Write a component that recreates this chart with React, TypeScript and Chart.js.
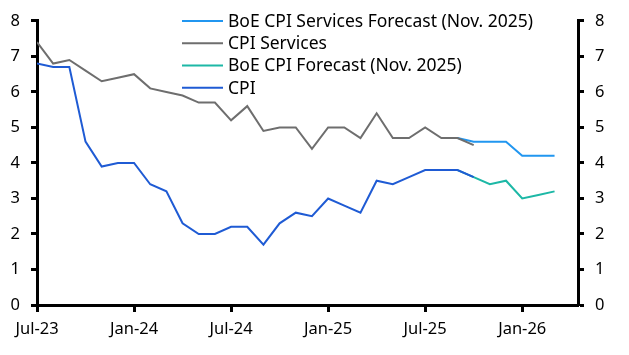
import React, { useEffect, useRef } from "react";
import { Chart, registerables } from "chart.js";

Chart.register(...registerables);

const months = [
  "Jul-23", "Aug-23", "Sep-23", "Oct-23", "Nov-23", "Dec-23",
  "Jan-24", "Feb-24", "Mar-24", "Apr-24", "May-24", "Jun-24",
  "Jul-24", "Aug-24", "Sep-24", "Oct-24", "Nov-24", "Dec-24",
  "Jan-25", "Feb-25", "Mar-25", "Apr-25", "May-25", "Jun-25",
  "Jul-25", "Aug-25", "Sep-25", "Oct-25", "Nov-25", "Dec-25",
  "Jan-26", "Feb-26", "Mar-26",
];

const xTickLabels = ["Jul-23", "Jan-24", "Jul-24", "Jan-25", "Jul-25", "Jan-26"];
const yTicks = [0, 1, 2, 3, 4, 5, 6, 7, 8];

// Actuals start Jul-23
const cpi = [
  6.8, 6.7, 6.7, 4.6, 3.9, 4.0, 4.0, 3.4, 3.2, 2.3, 2.0, 2.0,
  2.2, 2.2, 1.7, 2.3, 2.6, 2.5, 3.0, 2.8, 2.6, 3.5, 3.4, 3.6,
  3.8, 3.8, 3.8, 3.6,
];
const cpiServices = [
  7.4, 6.8, 6.9, 6.6, 6.3, 6.4, 6.5, 6.1, 6.0, 5.9, 5.7, 5.7,
  5.2, 5.6, 4.9, 5.0, 5.0, 4.4, 5.0, 5.0, 4.7, 5.4, 4.7, 4.7,
  5.0, 4.7, 4.7, 4.5,
];
// Forecasts start Sep-25
const forecastStart = "Sep-25";
const boeCpiForecast = [3.8, 3.6, 3.4, 3.5, 3.0, 3.1, 3.2];
const boeServicesForecast = [4.7, 4.6, 4.6, 4.6, 4.2, 4.2, 4.2];

const seriesNames = [
  "BoE CPI Services Forecast (Nov. 2025)",
  "CPI Services",
  "BoE CPI Forecast (Nov. 2025)",
  "CPI",
];
const seriesColors = ["#2196f0", "#6e6e6e", "#1db8a6", "#1f5bd4"];

const FONT = "'Noto Sans', sans-serif";

function toPoints(values: number[], startLabel: string) {
  const s = months.indexOf(startLabel);
  return values.map((v, i) => ({ x: s + i, y: v }));
}

const legendPlugin = {
  id: "insideLegend",
  afterDraw(chart: any) {
    const ctx = chart.ctx;
    const area = chart.chartArea;
    ctx.save();
    ctx.font = `17.5px ${FONT}`;
    ctx.textBaseline = "middle";
    ctx.fillStyle = "#000";
    const x0 = area.left + 145;
    const rowH = 22.3;
    seriesNames.forEach((name, i) => {
      const y = area.top + i * rowH;
      ctx.strokeStyle = seriesColors[i];
      ctx.lineWidth = 2;
      ctx.beginPath();
      ctx.moveTo(x0, y);
      ctx.lineTo(x0 + 41, y);
      ctx.stroke();
      ctx.fillText(name, x0 + 46, y + 1);
    });
    ctx.restore();
  },
};

export default function App() {
  const ref = useRef<HTMLCanvasElement | null>(null);

  useEffect(() => {
    document.body.style.margin = "0";
    const canvas = ref.current;
    if (!canvas) return;
    const tickPositions = xTickLabels.map((l) => months.indexOf(l));

    const yScale = (position: "left" | "right", width: number) => ({
      type: "linear" as const,
      position,
      min: 0,
      max: 8,
      afterBuildTicks: (scale: any) => {
        scale.ticks = yTicks.map((v) => ({ value: v }));
      },
      afterFit: (scale: any) => {
        scale.width = width;
      },
      ticks: {
        color: "#000",
        font: { family: FONT, size: 16.5 },
        padding: 11,
      },
      grid: {
        display: true,
        drawOnChartArea: false,
        drawTicks: true,
        tickLength: 6,
        tickWidth: 3,
        tickColor: "#000",
      },
      border: { display: true, color: "#000", width: 3 },
    });

    const chart = new Chart(canvas, {
      type: "line",
      data: {
        datasets: [
          {
            label: seriesNames[3],
            data: toPoints(cpi, "Jul-23"),
            borderColor: seriesColors[3],
            order: 0,
          },
          {
            label: seriesNames[1],
            data: toPoints(cpiServices, "Jul-23"),
            borderColor: seriesColors[1],
            order: 1,
          },
          {
            label: seriesNames[2],
            data: toPoints(boeCpiForecast, forecastStart),
            borderColor: seriesColors[2],
            order: 2,
          },
          {
            label: seriesNames[0],
            data: toPoints(boeServicesForecast, forecastStart),
            borderColor: seriesColors[0],
            order: 3,
          },
        ].map((d) => ({
          ...d,
          borderWidth: 2,
          pointRadius: 0,
          tension: 0,
          fill: false,
        })),
      },
      options: {
        responsive: false,
        animation: false,
        layout: { padding: { top: 12, left: 0, right: 0, bottom: 0 } },
        plugins: {
          legend: { display: false },
          tooltip: { enabled: false },
        },
        scales: {
          x: {
            type: "linear",
            min: 0,
            max: 33.45,
            afterBuildTicks: (scale: any) => {
              scale.ticks = tickPositions.map((v) => ({ value: v }));
            },
            afterFit: (scale: any) => {
              scale.height = 50;
            },
            ticks: {
              color: "#000",
              font: { family: FONT, size: 16.5 },
              padding: 7,
              maxRotation: 0,
              autoSkip: false,
              callback: (v: any) => months[Number(v)] ?? "",
            },
            grid: {
              display: true,
              drawOnChartArea: false,
              drawTicks: true,
              tickLength: 7,
              tickWidth: 3,
              tickColor: "#000",
            },
            border: { display: true, color: "#000", width: 3 },
          },
          y: yScale("left", 37),
          y2: yScale("right", 51),
        },
      },
      plugins: [legendPlugin],
    } as any);
    return () => chart.destroy();
  }, []);

  return (
    <div style={{ width: 629, height: 355, position: "relative" }}>
      <canvas ref={ref} width={629} height={355} />
    </div>
  );
}
